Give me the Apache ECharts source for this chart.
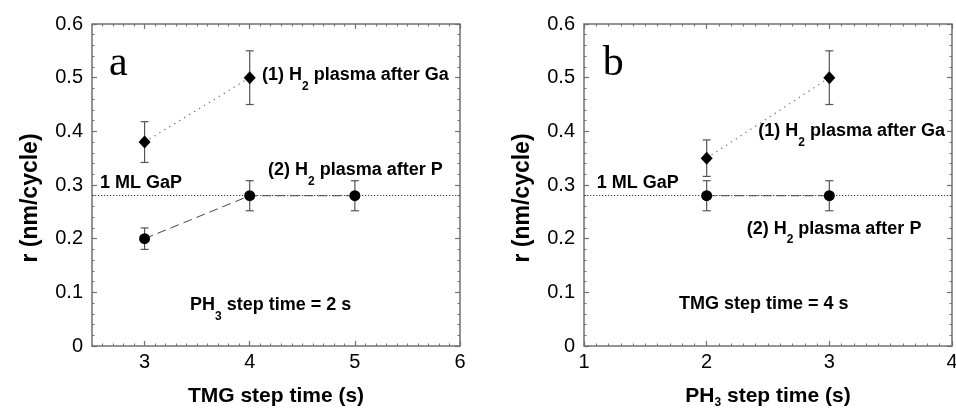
<!DOCTYPE html>
<html><head><meta charset="utf-8">
<script src="https://cdn.jsdelivr.net/npm/echarts@6/dist/echarts.min.js"></script>
<style>html,body{margin:0;padding:0;background:#fff}#c{width:956px;height:408px}</style>
</head><body><div id="c"></div>
<script>
// ---- Panel a: growth per cycle vs TMG step time (PH3 step time = 2 s)
const aGaX = [3, 4];
const aGaY = [0.38, 0.50];
const aGaErr = [0.038, 0.05];
const aPX = [3, 4, 5];
const aPY = [0.20, 0.28, 0.28];
const aPErr = [0.02, 0.028, 0.028];
// ---- Panel b: growth per cycle vs PH3 step time (TMG step time = 4 s)
const bGaX = [2, 3];
const bGaY = [0.35, 0.50];
const bGaErr = [0.034, 0.05];
const bPX = [2, 3];
const bPY = [0.28, 0.28];
const bPErr = [0.028, 0.028];
// 1 monolayer GaP reference
const mlGaP = 0.275;
// axis ranges / tick labels
const aXRange = [2.5, 6];
const aXTicks = [3, 4, 5, 6];
const bXRange = [1, 4];
const bXTicks = [1, 2, 3, 4];
const yRange = [0, 0.6];

const FRAME = '#707070';
const TXT = '#000';
const SANS = '"Liberation Sans", Arial, sans-serif';

function zip(xs, ys) { return xs.map((x, i) => [x, ys[i]]); }
function errData(xs, ys, es) { return xs.map((x, i) => [x, ys[i] - es[i], ys[i] + es[i]]); }

const subRich = {
  s: { fontSize: 12, fontWeight: 'bold', fontFamily: SANS, color: TXT, lineHeight: 11, padding: [23, 0, 0, 0] }
};

function xAxes(g, range, ticks, name) {
  const common = { type: 'value', gridIndex: g, min: range[0], max: range[1], splitLine: { show: false }, axisLine: { show: false } };
  const major = (pos, withLabel) => Object.assign({}, common, {
    position: pos,
    axisTick: { show: true, inside: true, length: 5, customValues: ticks, lineStyle: { color: FRAME, width: 1.2 } },
    axisLabel: withLabel ? { show: true, customValues: ticks, fontSize: 20, color: TXT, fontFamily: SANS, margin: 6 } : { show: false },
    name: withLabel ? name : '',
    nameLocation: 'middle', nameGap: 39,
    nameTextStyle: { fontSize: 21, fontWeight: 'bold', color: TXT, fontFamily: SANS, lineHeight: 22,
      rich: { s: { fontSize: 12, fontWeight: 'bold', fontFamily: SANS, color: TXT, lineHeight: 11, padding: [14, 0, 0, 0] } } }
  });
  const minor = (pos) => Object.assign({}, common, {
    position: pos, interval: 0.1,
    axisTick: { show: true, inside: true, length: 2.5, lineStyle: { color: FRAME, width: 1 } },
    axisLabel: { show: false }
  });
  return [major('bottom', true), minor('bottom'), major('top', false), minor('top')];
}

function yAxes(g) {
  const common = {
    type: 'value', gridIndex: g, min: yRange[0], max: yRange[1], interval: 0.1,
    splitLine: { show: false }, axisLine: { show: false },
    axisTick: { show: true, inside: true, length: 5, lineStyle: { color: FRAME, width: 1.2 } },
    minorTick: { show: true, splitNumber: 5, length: 2.5, lineStyle: { color: FRAME, width: 1 } }
  };
  return [
    Object.assign({}, common, {
      position: 'left',
      axisLabel: { fontSize: 20, color: TXT, fontFamily: SANS, margin: 9, formatter: v => v === 0 ? '0' : v.toFixed(1) },
      name: 'r (nm/cycle)', nameLocation: 'middle', nameGap: 50,
      nameTextStyle: { fontSize: 23, fontWeight: 'bold', color: TXT, fontFamily: SANS, padding: [0, 26, 0, 0] }
    }),
    Object.assign({}, common, { position: 'right', axisLabel: { show: false } })
  ];
}

function errSeries(g, data) {
  return {
    type: 'custom', xAxisIndex: g * 4, yAxisIndex: g * 2, z: 2, silent: true,
    data: data,
    renderItem: function (params, api) {
      const x = api.value(0);
      const lo = api.coord([x, api.value(1)]);
      const hi = api.coord([x, api.value(2)]);
      const w = 4;
      const st = { stroke: '#555', lineWidth: 1.2 };
      return { type: 'group', children: [
        { type: 'line', shape: { x1: lo[0], y1: lo[1], x2: hi[0], y2: hi[1] }, style: st },
        { type: 'line', shape: { x1: lo[0] - w, y1: lo[1], x2: lo[0] + w, y2: lo[1] }, style: st },
        { type: 'line', shape: { x1: hi[0] - w, y1: hi[1], x2: hi[0] + w, y2: hi[1] }, style: st }
      ] };
    }
  };
}

function gaSeries(g, data) {
  return {
    type: 'line', xAxisIndex: g * 4, yAxisIndex: g * 2, z: 4, data: data,
    symbol: 'diamond', symbolSize: [12, 13], itemStyle: { color: '#000' },
    lineStyle: { color: '#777', width: 1.3, type: [1.3, 4.5] }, animation: false
  };
}
function pSeries(g, data) {
  return {
    type: 'line', xAxisIndex: g * 4, yAxisIndex: g * 2, z: 4, data: data,
    symbol: 'circle', symbolSize: 11, itemStyle: { color: '#000' },
    lineStyle: { color: '#444', width: 1, type: [9, 5] }, animation: false,
    markLine: {
      silent: true, symbol: 'none', label: { show: false },
      lineStyle: { color: '#444', width: 1, type: [1.3, 1.7] },
      data: [{ yAxis: mlGaP }], z: 1
    }
  };
}

function note(pos, text, opts) {
  return {
    value: pos,
    label: Object.assign({
      show: true, position: 'inside', align: 'left', verticalAlign: 'middle', formatter: text, opacity: 1,
      fontSize: 18, fontWeight: 'bold', fontFamily: SANS, color: TXT, lineHeight: 20, rich: subRich
    }, opts || {})
  };
}
const letterStyle = { fontSize: 42, fontWeight: 'normal', fontFamily: '"Liberation Serif", "Times New Roman", serif', lineHeight: 42 };

function notesSeries(g, items) {
  return { type: 'scatter', xAxisIndex: g * 4, yAxisIndex: g * 2, symbolSize: 0, silent: true, z: 5,
    itemStyle: { opacity: 1 }, data: items, animation: false };
}

const option = {
  animation: false,
  backgroundColor: '#fff',
  grid: [
    { left: 92, top: 24, width: 368, height: 322, show: true, borderColor: FRAME, borderWidth: 1.5, outerBoundsMode: 'none', containLabel: false },
    { left: 584, top: 24, width: 368, height: 322, show: true, borderColor: FRAME, borderWidth: 1.5, outerBoundsMode: 'none', containLabel: false }
  ],
  xAxis: [].concat(xAxes(0, aXRange, aXTicks, 'TMG step time (s)'), xAxes(1, bXRange, bXTicks, 'PH{s|3} step time (s)')),
  yAxis: [].concat(yAxes(0), yAxes(1)),
  series: [
    errSeries(0, errData(aGaX, aGaY, aGaErr)),
    errSeries(0, errData(aPX, aPY, aPErr)),
    gaSeries(0, zip(aGaX, aGaY)),
    pSeries(0, zip(aPX, aPY)),
    notesSeries(0, [
      note([2.662, 0.5255], 'a', letterStyle),
      note([4.117, 0.505], '(1) H{s|2} plasma after Ga'),
      note([4.174, 0.328], '(2) H{s|2} plasma after P'),
      note([2.576, 0.304], '1 ML GaP'),
      note([3.432, 0.0764], 'PH{s|3} step time = 2 s')
    ]),
    errSeries(1, errData(bGaX, bGaY, bGaErr)),
    errSeries(1, errData(bPX, bPY, bPErr)),
    gaSeries(1, zip(bGaX, bGaY)),
    pSeries(1, zip(bPX, bPY)),
    notesSeries(1, [
      note([1.152, 0.5255], 'b', letterStyle),
      note([2.421, 0.401], '(1) H{s|2} plasma after Ga'),
      note([2.326, 0.2186], '(2) H{s|2} plasma after P'),
      note([1.103, 0.303], '1 ML GaP'),
      note([1.774, 0.078], 'TMG step time = 4 s')
    ])
  ]
};

const chart = echarts.init(document.getElementById('c'), null, { renderer: 'canvas' });
chart.setOption(option);
</script>
</body></html>
